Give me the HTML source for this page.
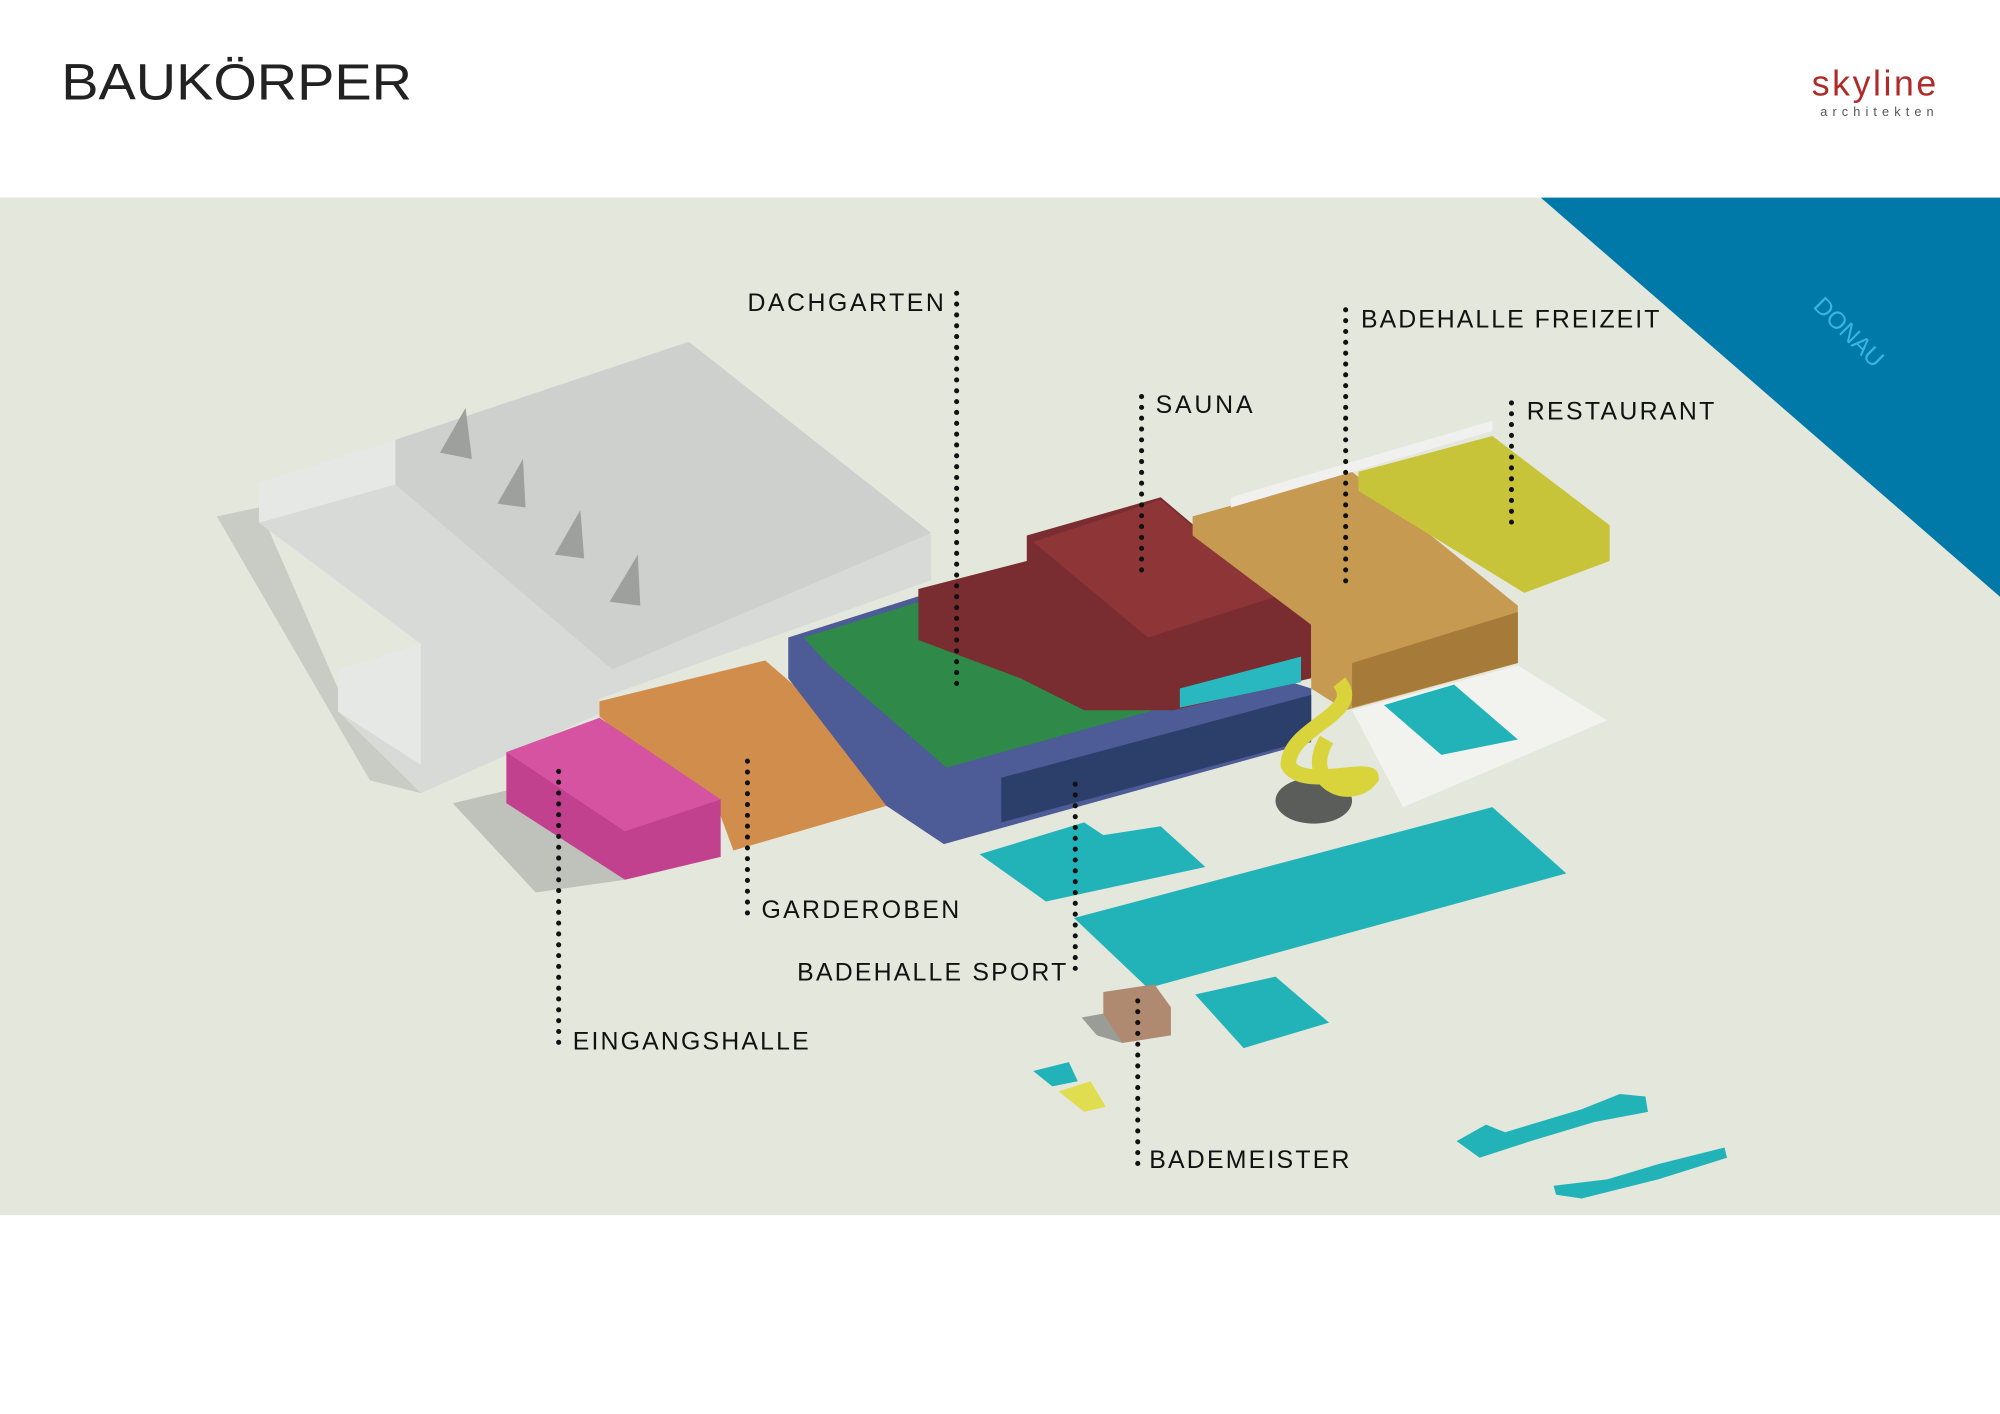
<!DOCTYPE html>
<html><head><meta charset="utf-8"><style>
html,body{margin:0;padding:0;background:#fff;}
svg{display:block;}
text{font-family:"Liberation Sans",sans-serif;}
</style></head><body>
<svg width="2000" height="1414" viewBox="0 0 1568 1109" preserveAspectRatio="none" xmlns="http://www.w3.org/2000/svg">
<rect width="1568" height="1109" fill="#fff"/>
<text x="48" y="78" font-size="40" fill="#222" textLength="275" lengthAdjust="spacingAndGlyphs">BAUKÖRPER</text>
<text x="1520" y="75" font-size="28" fill="#b02a2a" text-anchor="end" font-family="Liberation Serif, serif" letter-spacing="2">skyline</text>
<text x="1520" y="91" font-size="10" fill="#555" text-anchor="end" letter-spacing="4">architekten</text>
<rect x="0" y="155" width="1568" height="798" fill="#e4e7dc"/>
<polygon points="1208,155 1568,155 1568,468" fill="#0078a8"/>
<text x="1445" y="265" font-size="19" fill="#3ab4e6" transform="rotate(45 1445 265)" text-anchor="middle">DONAU</text>
<polygon points="170,405 203,398 265,540 330,622 290,612" fill="#c9ccc4"/>
<polygon points="355,630 397,620 490,690 420,700" fill="#bfc2ba"/>
<polygon points="203,378 310,345 540,268 730,420 730,455 470,548 470,560 330,622 265,558 265,525 330,505 203,410" fill="#d7dad7"/>
<polygon points="310,345 540,268 730,418 480,525 310,380" fill="#cdd0cd"/>
<polygon points="203,378 310,345 310,380 203,410" fill="#e6e8e6"/>
<polygon points="265,525 330,505 330,600 265,558" fill="#e6e8e6"/>
<polygon points="345,355 365,320 370,360" fill="#9da09d"/><polygon points="390,395 410,360 412,398" fill="#9da09d"/><polygon points="435,435 455,400 458,438" fill="#9da09d"/><polygon points="478,472 500,435 502,475" fill="#9da09d"/>
<polygon points="470,550 600,518 695,600 695,632 575,667 565,640 470,562" fill="#d18d4c"/>
<polygon points="397,590 470,563 565,627 565,672 490,690 397,630" fill="#c2418f"/>
<polygon points="397,590 470,563 565,627 490,652" fill="#d653a2"/>
<polygon points="618,500 760,455 1028,540 1028,582 740,662 695,632 618,532" fill="#4d5b96"/>
<polygon points="630,500 760,460 995,532 742,602 650,522" fill="#2f8a4a"/>
<polygon points="785,610 1028,545 1028,580 785,645" fill="#2c3e6a"/>
<polygon points="720,462 805,440 805,420 910,390 1028,490 1028,532 920,557 850,557 800,532 720,502" fill="#7a2d30"/>
<polygon points="810,425 910,392 1000,468 900,500" fill="#8e3538"/>
<polygon points="925,540 1020,515 1020,535 925,555" fill="#2ab8c0"/>
<polygon points="935,405 1060,370 1190,475 1190,520 1055,557 1028,540 1028,490 935,420" fill="#c79a52"/>
<polygon points="1060,520 1190,480 1190,520 1060,555" fill="#a67b3a"/>
<polygon points="1065,370 1170,342 1262,412 1262,440 1195,465 1065,385" fill="#c8c43a"/>
<polygon points="965,390 1170,330 1170,338 965,398" fill="#f0f0ee"/>
<polygon points="1060,557 1190,522 1260,565 1100,633" fill="#f2f3ef"/>
<polygon points="1085,553 1140,537 1190,580 1130,592" fill="#22b3b8"/>
<ellipse cx="1030" cy="628" rx="30" ry="18" fill="#5a5d5a"/>
<path d="M1050,535 C1070,560 1010,570 1010,600 C1020,620 1075,600 1075,610 C1060,630 1020,615 1040,580" stroke="#d9d43c" stroke-width="12" fill="none"/>
<polygon points="768,670 850,645 865,655 910,648 945,680 820,707" fill="#22b3b8"/>
<polygon points="842,720 1170,633 1228,685 900,775" fill="#22b3b8"/>
<polygon points="937,780 1000,766 1042,802 975,822" fill="#22b3b8"/>
<polygon points="810,840 838,833 845,848 825,852" fill="#22b3b8"/>
<polygon points="830,856 855,848 867,868 850,872" fill="#e0de50"/>
<polygon points="1142,895 1165,882 1180,888 1240,870 1270,858 1290,860 1292,872 1250,880 1200,895 1160,908" fill="#22b3b8"/>
<polygon points="1218,930 1260,925 1300,913 1352,900 1354,908 1300,925 1240,940 1220,937" fill="#22b3b8"/>
<polygon points="865,778 905,772 918,790 918,812 880,818 865,800" fill="#b08a70"/>
<polygon points="848,798 865,795 880,818 860,812" fill="#9a9c96"/>
<g stroke="#111" stroke-width="4" stroke-linecap="round" stroke-dasharray="0 8.5" fill="none">
<line x1="750" y1="230" x2="750" y2="540"/>
<line x1="1055" y1="243" x2="1055" y2="462"/>
<line x1="895" y1="311" x2="895" y2="450"/>
<line x1="1185" y1="316" x2="1185" y2="410"/>
<line x1="586" y1="597" x2="586" y2="720"/>
<line x1="438" y1="605" x2="438" y2="822"/>
<line x1="843" y1="615" x2="843" y2="768"/>
<line x1="892" y1="785" x2="892" y2="915"/>
</g>
<g font-size="19.5" fill="#111" lengthAdjust="spacingAndGlyphs">
<text x="586" y="244" textLength="154">DACHGARTEN</text>
<text x="1067" y="257" textLength="234">BADEHALLE FREIZEIT</text>
<text x="906" y="324" textLength="76">SAUNA</text>
<text x="1197" y="329" textLength="147">RESTAURANT</text>
<text x="597" y="720" textLength="155">GARDEROBEN</text>
<text x="449" y="823" textLength="185">EINGANGSHALLE</text>
<text x="625" y="769" textLength="211">BADEHALLE SPORT</text>
<text x="901" y="916" textLength="157">BADEMEISTER</text>
</g>
</svg>
</body></html>
